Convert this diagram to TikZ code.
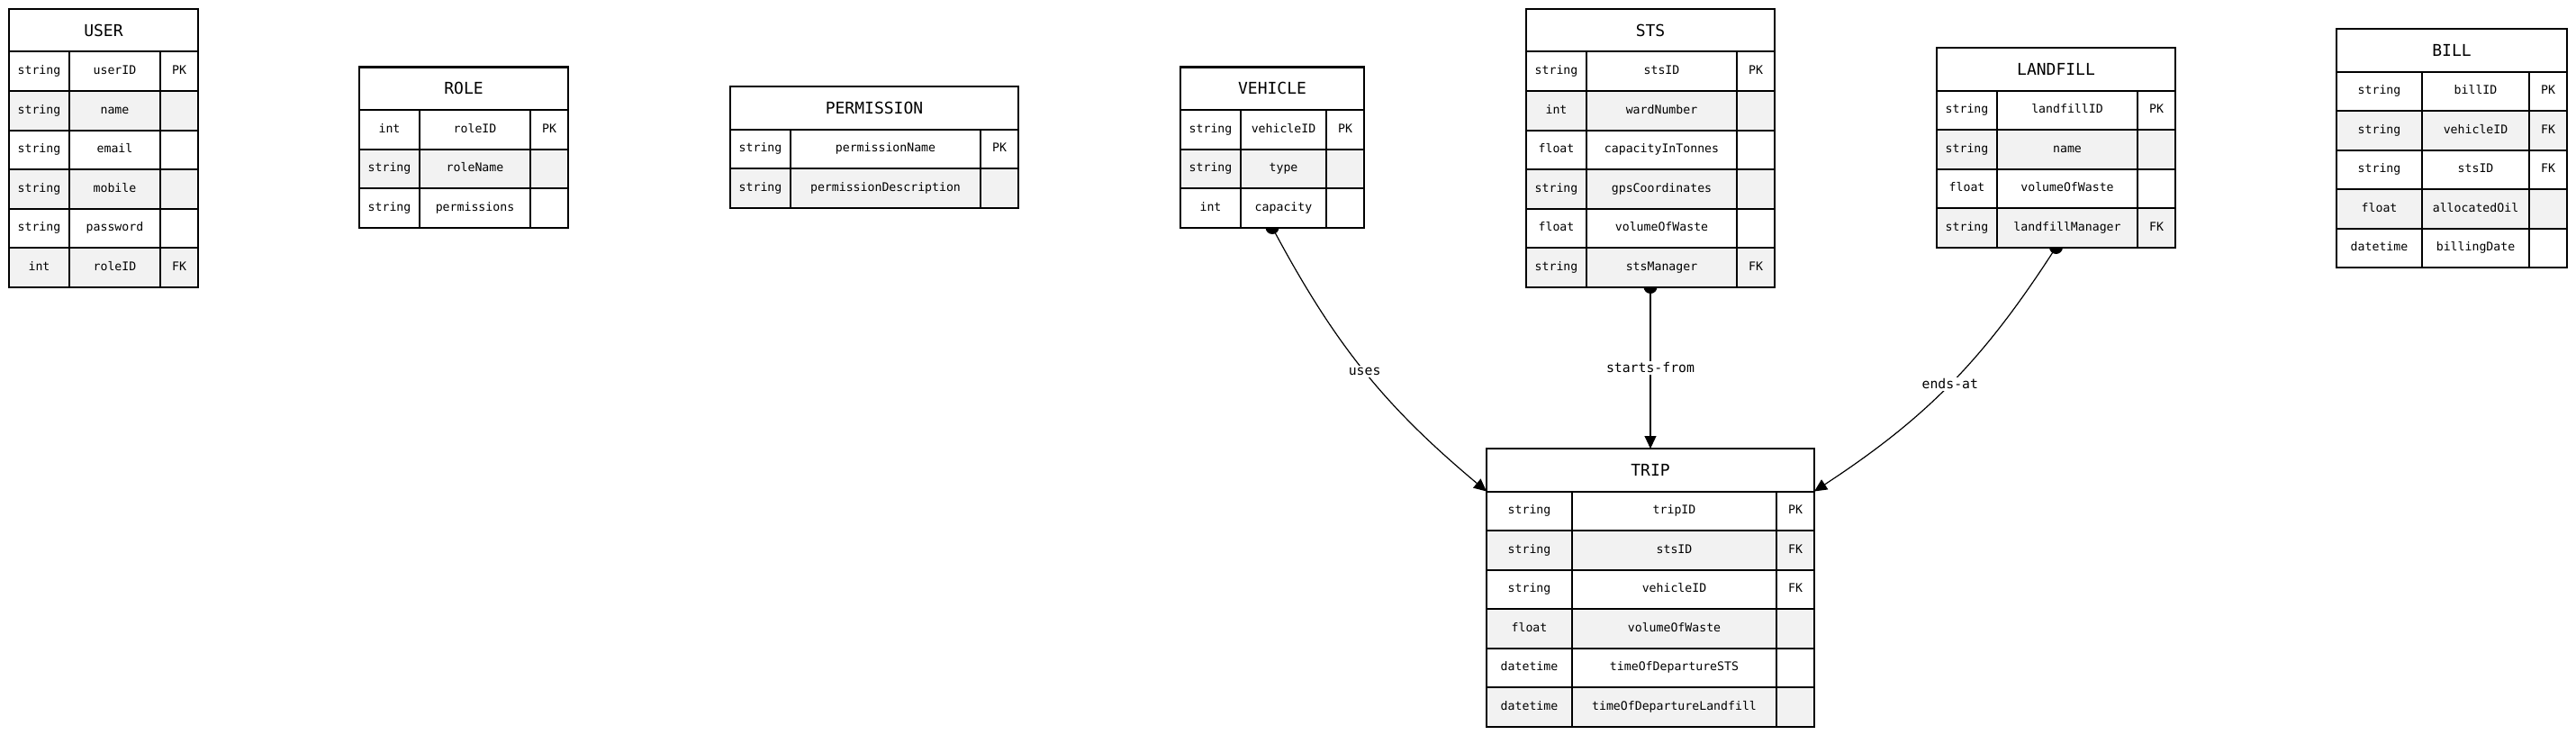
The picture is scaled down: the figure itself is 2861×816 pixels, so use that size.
\documentclass[tikz,border=0pt]{standalone}
\usepackage{fontspec}
\setmonofont{DejaVu Sans Mono}
\usetikzlibrary{arrows.meta,backgrounds}
\definecolor{rowgrey}{HTML}{F2F2F2}

\begin{document}
\begin{tikzpicture}[x=1pt, y=-1pt,
  hd/.style={draw=black, fill=white, line width=2pt, outer sep=0pt, anchor=north west, minimum height=47.5pt, font=\ttfamily\fontsize{18}{20}\selectfont},
  rw/.style={draw=black, fill=white, line width=2pt, outer sep=0pt, inner sep=0pt, anchor=north west, minimum height=43.5pt, text height=10pt, text depth=3pt, font=\ttfamily\fontsize{13.2}{15}\selectfont},
  rg/.style={rw, fill=rowgrey},
  rel/.style={-{Triangle[length=14pt, width=13pt]}, line width=1.2pt, draw=black},
  lbl/.style={fill=white, inner sep=2pt, font=\ttfamily\fontsize{14.8}{16}\selectfont}]
\useasboundingbox (0,0) rectangle (2861,816);
\node[hd, minimum width=210] (user) at (10,10) {USER};
\node[rw, minimum width=67] (user-t1) at (10,57.5) {string}; \node[rw, minimum width=101] (user-n1) at (77,57.5) {userID}; \node[rw, minimum width=42] (user-k1) at (178,57.5) {PK};
\node[rg, minimum width=67] (user-t2) at (10,101) {string}; \node[rg, minimum width=101] (user-n2) at (77,101) {name}; \node[rg, minimum width=42] (user-k2) at (178,101) {};
\node[rw, minimum width=67] (user-t3) at (10,144.5) {string}; \node[rw, minimum width=101] (user-n3) at (77,144.5) {email}; \node[rw, minimum width=42] (user-k3) at (178,144.5) {};
\node[rg, minimum width=67] (user-t4) at (10,188) {string}; \node[rg, minimum width=101] (user-n4) at (77,188) {mobile}; \node[rg, minimum width=42] (user-k4) at (178,188) {};
\node[rw, minimum width=67] (user-t5) at (10,231.5) {string}; \node[rw, minimum width=101] (user-n5) at (77,231.5) {password}; \node[rw, minimum width=42] (user-k5) at (178,231.5) {};
\node[rg, minimum width=67] (user-t6) at (10,275) {int}; \node[rg, minimum width=101] (user-n6) at (77,275) {roleID}; \node[rg, minimum width=42] (user-k6) at (178,275) {FK};
\node[hd, minimum width=232] (role) at (399,74.5) {ROLE};
\node[rw, minimum width=67] (role-t1) at (399,122) {int}; \node[rw, minimum width=123] (role-n1) at (466,122) {roleID}; \node[rw, minimum width=42] (role-k1) at (589,122) {PK};
\node[rg, minimum width=67] (role-t2) at (399,165.5) {string}; \node[rg, minimum width=123] (role-n2) at (466,165.5) {roleName}; \node[rg, minimum width=42] (role-k2) at (589,165.5) {};
\node[rw, minimum width=67] (role-t3) at (399,209) {string}; \node[rw, minimum width=123] (role-n3) at (466,209) {permissions}; \node[rw, minimum width=42] (role-k3) at (589,209) {};
\node[hd, minimum width=320] (permission) at (811,96) {PERMISSION};
\node[rw, minimum width=67] (permission-t1) at (811,143.5) {string}; \node[rw, minimum width=211] (permission-n1) at (878,143.5) {permissionName}; \node[rw, minimum width=42] (permission-k1) at (1089,143.5) {PK};
\node[rg, minimum width=67] (permission-t2) at (811,187) {string}; \node[rg, minimum width=211] (permission-n2) at (878,187) {permissionDescription}; \node[rg, minimum width=42] (permission-k2) at (1089,187) {};
\node[hd, minimum width=204] (vehicle) at (1311,74.5) {VEHICLE};
\node[rw, minimum width=67] (vehicle-t1) at (1311,122) {string}; \node[rw, minimum width=95] (vehicle-n1) at (1378,122) {vehicleID}; \node[rw, minimum width=42] (vehicle-k1) at (1473,122) {PK};
\node[rg, minimum width=67] (vehicle-t2) at (1311,165.5) {string}; \node[rg, minimum width=95] (vehicle-n2) at (1378,165.5) {type}; \node[rg, minimum width=42] (vehicle-k2) at (1473,165.5) {};
\node[rw, minimum width=67] (vehicle-t3) at (1311,209) {int}; \node[rw, minimum width=95] (vehicle-n3) at (1378,209) {capacity}; \node[rw, minimum width=42] (vehicle-k3) at (1473,209) {};
\node[hd, minimum width=276] (sts) at (1695,10) {STS};
\node[rw, minimum width=67] (sts-t1) at (1695,57.5) {string}; \node[rw, minimum width=167] (sts-n1) at (1762,57.5) {stsID}; \node[rw, minimum width=42] (sts-k1) at (1929,57.5) {PK};
\node[rg, minimum width=67] (sts-t2) at (1695,101) {int}; \node[rg, minimum width=167] (sts-n2) at (1762,101) {wardNumber}; \node[rg, minimum width=42] (sts-k2) at (1929,101) {};
\node[rw, minimum width=67] (sts-t3) at (1695,144.5) {float}; \node[rw, minimum width=167] (sts-n3) at (1762,144.5) {capacityInTonnes}; \node[rw, minimum width=42] (sts-k3) at (1929,144.5) {};
\node[rg, minimum width=67] (sts-t4) at (1695,188) {string}; \node[rg, minimum width=167] (sts-n4) at (1762,188) {gpsCoordinates}; \node[rg, minimum width=42] (sts-k4) at (1929,188) {};
\node[rw, minimum width=67] (sts-t5) at (1695,231.5) {float}; \node[rw, minimum width=167] (sts-n5) at (1762,231.5) {volumeOfWaste}; \node[rw, minimum width=42] (sts-k5) at (1929,231.5) {};
\node[rg, minimum width=67] (sts-t6) at (1695,275) {string}; \node[rg, minimum width=167] (sts-n6) at (1762,275) {stsManager}; \node[rg, minimum width=42] (sts-k6) at (1929,275) {FK};
\node[hd, minimum width=265] (landfill) at (2151,53) {LANDFILL};
\node[rw, minimum width=67] (landfill-t1) at (2151,100.5) {string}; \node[rw, minimum width=156] (landfill-n1) at (2218,100.5) {landfillID}; \node[rw, minimum width=42] (landfill-k1) at (2374,100.5) {PK};
\node[rg, minimum width=67] (landfill-t2) at (2151,144) {string}; \node[rg, minimum width=156] (landfill-n2) at (2218,144) {name}; \node[rg, minimum width=42] (landfill-k2) at (2374,144) {};
\node[rw, minimum width=67] (landfill-t3) at (2151,187.5) {float}; \node[rw, minimum width=156] (landfill-n3) at (2218,187.5) {volumeOfWaste}; \node[rw, minimum width=42] (landfill-k3) at (2374,187.5) {};
\node[rg, minimum width=67] (landfill-t4) at (2151,231) {string}; \node[rg, minimum width=156] (landfill-n4) at (2218,231) {landfillManager}; \node[rg, minimum width=42] (landfill-k4) at (2374,231) {FK};
\node[hd, minimum width=256] (bill) at (2595,32) {BILL};
\node[rw, minimum width=95] (bill-t1) at (2595,79.5) {string}; \node[rw, minimum width=119] (bill-n1) at (2690,79.5) {billID}; \node[rw, minimum width=42] (bill-k1) at (2809,79.5) {PK};
\node[rg, minimum width=95] (bill-t2) at (2595,123) {string}; \node[rg, minimum width=119] (bill-n2) at (2690,123) {vehicleID}; \node[rg, minimum width=42] (bill-k2) at (2809,123) {FK};
\node[rw, minimum width=95] (bill-t3) at (2595,166.5) {string}; \node[rw, minimum width=119] (bill-n3) at (2690,166.5) {stsID}; \node[rw, minimum width=42] (bill-k3) at (2809,166.5) {FK};
\node[rg, minimum width=95] (bill-t4) at (2595,210) {float}; \node[rg, minimum width=119] (bill-n4) at (2690,210) {allocatedOil}; \node[rg, minimum width=42] (bill-k4) at (2809,210) {};
\node[rw, minimum width=95] (bill-t5) at (2595,253.5) {datetime}; \node[rw, minimum width=119] (bill-n5) at (2690,253.5) {billingDate}; \node[rw, minimum width=42] (bill-k5) at (2809,253.5) {};
\node[hd, minimum width=364] (trip) at (1651,498) {TRIP};
\node[rw, minimum width=95] (trip-t1) at (1651,545.5) {string}; \node[rw, minimum width=227] (trip-n1) at (1746,545.5) {tripID}; \node[rw, minimum width=42] (trip-k1) at (1973,545.5) {PK};
\node[rg, minimum width=95] (trip-t2) at (1651,589) {string}; \node[rg, minimum width=227] (trip-n2) at (1746,589) {stsID}; \node[rg, minimum width=42] (trip-k2) at (1973,589) {FK};
\node[rw, minimum width=95] (trip-t3) at (1651,632.5) {string}; \node[rw, minimum width=227] (trip-n3) at (1746,632.5) {vehicleID}; \node[rw, minimum width=42] (trip-k3) at (1973,632.5) {FK};
\node[rg, minimum width=95] (trip-t4) at (1651,676) {float}; \node[rg, minimum width=227] (trip-n4) at (1746,676) {volumeOfWaste}; \node[rg, minimum width=42] (trip-k4) at (1973,676) {};
\node[rw, minimum width=95] (trip-t5) at (1651,719.5) {datetime}; \node[rw, minimum width=227] (trip-n5) at (1746,719.5) {timeOfDepartureSTS}; \node[rw, minimum width=42] (trip-k5) at (1973,719.5) {};
\node[rg, minimum width=95] (trip-t6) at (1651,763) {datetime}; \node[rg, minimum width=227] (trip-n6) at (1746,763) {timeOfDepartureLandfill}; \node[rg, minimum width=42] (trip-k6) at (1973,763) {};
\coordinate (vehicle-out) at (vehicle.south |- vehicle-n3.south);
\coordinate (sts-out) at (sts.south |- sts-n6.south);
\coordinate (landfill-out) at (landfill.south |- landfill-n4.south);
\begin{scope}[on background layer]
\fill (vehicle-out) circle (7.5pt);
\fill (sts-out) circle (7.5pt);
\fill (landfill-out) circle (7.5pt);
\draw[rel] (vehicle-out) to[bend right=11] node[lbl] {uses} (trip.south west);
\draw[rel] (sts-out) -- node[lbl] {starts-from} (trip.north);
\draw[rel] (landfill-out) to[bend left=12] node[lbl] {ends-at} (trip.south east);
\end{scope}
\end{tikzpicture}
\end{document}
